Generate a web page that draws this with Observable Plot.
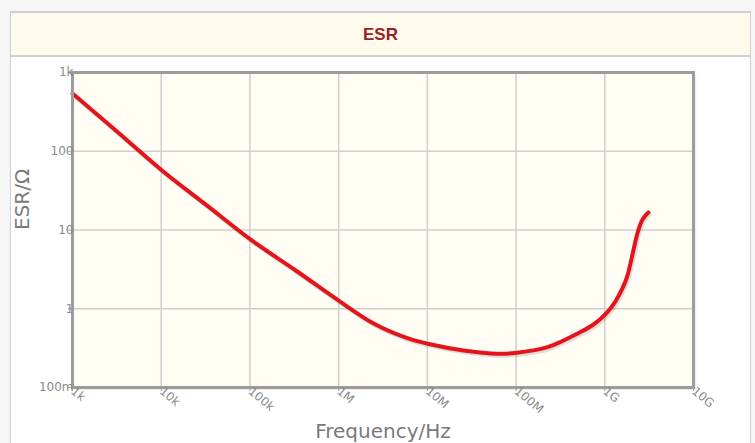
<!DOCTYPE html>
<html>
<head>
<meta charset="utf-8">
<script src="https://cdn.jsdelivr.net/npm/d3@7"></script>
<script src="https://cdn.jsdelivr.net/npm/@observablehq/plot@0.6"></script>
<style>
  html, body { margin: 0; padding: 0; }
  body { width: 755px; height: 443px; background: #f5f5f5; position: relative; overflow: hidden; font-family: "DejaVu Sans", sans-serif; }
  #panel { position: absolute; left: 10px; top: 11px; width: 739px; height: 460px; background: #fff; border: 1px solid #cfcfcf; border-top-width: 2px; }
  #header { height: 42px; background: #fffaec; border-bottom: 2px solid #d0d0d0; text-align: center; line-height: 44px;
            font-family: "Liberation Sans", Arial, sans-serif; font-weight: bold; font-size: 17px; color: #992222; }
  #chart { position: absolute; left: 0; top: 0; }
</style>
</head>
<body>
<div id="panel"><div id="header">ESR</div></div>
<div id="chart"></div>
<script>
// Frequency (Hz) and ESR (Ohm)
const freq = [1e3, 3.17e3, 1.02e4, 3.27e4, 1.05e5, 3.29e5, 1.03e6, 2.48e6, 5.85e6, 1.04e7, 2.56e7, 6.19e7,
              1.01e8, 2.26e8, 5.32e8, 7.46e8, 1.04e9, 1.32e9, 1.58e9, 1.80e9, 2.10e9, 2.33e9, 2.59e9, 2.87e9, 3.10e9];
const esr  = [541, 178, 57.0, 20.5, 7.36, 3.06, 1.24, 0.650, 0.426, 0.356, 0.295, 0.268,
              0.276, 0.325, 0.507, 0.631, 0.871, 1.24, 1.81, 2.64, 5.50, 9.04, 12.8, 15.3, 16.7];

const xTicks = [1e3, 1e4, 1e5, 1e6, 1e7, 1e8, 1e9, 1e10];
const xTickLabels = ["1k", "10k", "100k", "1M", "10M", "100M", "1G", "10G"];
const yTicks = [0.1, 1, 10, 100, 1000];
const yTickLabels = ["100m", "1", "10", "100", "1k"];

const data = freq.map((f, i) => ({f, r: esr[i]}));

const chart = Plot.plot({
  width: 755,
  height: 443,
  marginLeft: 72,
  marginRight: 62,
  marginTop: 72,
  marginBottom: 56,
  style: {background: "transparent", fontFamily: "DejaVu Sans, sans-serif", overflow: "visible"},
  x: {type: "log", domain: [1e3, 1e10]},
  y: {type: "log", domain: [0.1, 1000]},
  marks: [
    Plot.frame({fill: "#000", fillOpacity: 0.06, stroke: "none", dx: 3, dy: 3}),
    Plot.frame({fill: "#fffdf4", stroke: "none"}),
    Plot.gridX(xTicks.slice(1, -1), {stroke: "#cfcfcf", strokeOpacity: 1, strokeWidth: 1.5}),
    Plot.gridY(yTicks.slice(1, -1), {stroke: "#cfcfcf", strokeOpacity: 1, strokeWidth: 1.5}),
    Plot.lineY(data, {x: "f", y: "r", curve: "catmull-rom", stroke: "#000", strokeOpacity: 0.12, strokeWidth: 4.2, dx: 1.5, dy: 2}),
    Plot.lineY(data, {x: "f", y: "r", curve: "catmull-rom", stroke: "#e3141c", strokeWidth: 4, strokeLinecap: "round"}),
    Plot.frame({stroke: "#9c9c9c", strokeWidth: 3}),
    Plot.axisY({ticks: yTicks, tickFormat: (d) => yTickLabels[yTicks.indexOf(d)], tickSize: 4, tickPadding: -5,
                stroke: "#999", fill: "#8a8a8a", fontSize: 12, label: null}),
    Plot.axisX({ticks: xTicks, tickFormat: (d) => xTickLabels[xTicks.indexOf(d)], tickSize: 4, tickPadding: -2, tickRotate: 40,
                stroke: "#999", fill: "#8a8a8a", fontSize: 12, label: null}),
    Plot.text(["Frequency/Hz"], {frameAnchor: "bottom", dy: 44, fontSize: 20, fill: "#7a7a7a", lineAnchor: "middle"}),
    Plot.text(["ESR/Ω"], {frameAnchor: "left", dx: -50, rotate: -90, fontSize: 20, fill: "#7a7a7a", lineAnchor: "middle"})
  ]
});
document.getElementById("chart").appendChild(chart);
</script>
</body>
</html>
